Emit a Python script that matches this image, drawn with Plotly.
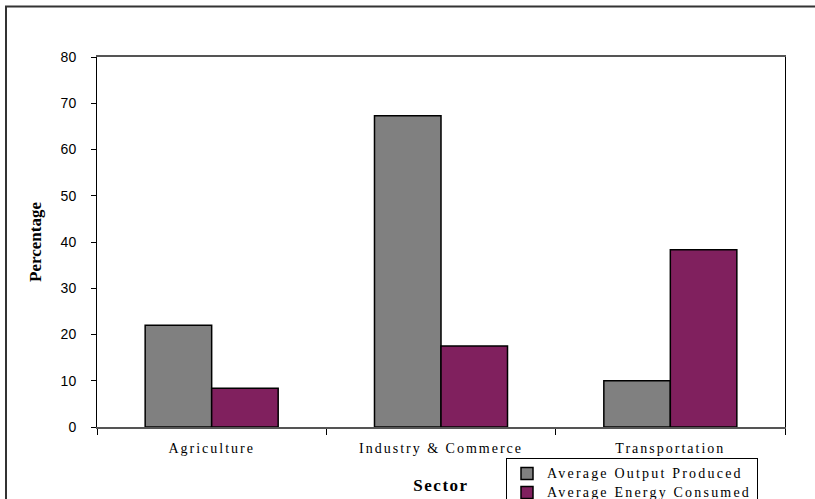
import plotly.graph_objects as go

categories = ["Agriculture", "Industry & Commerce", "Transportation"]
output_produced = [22.0, 67.3, 10.0]
energy_consumed = [8.4, 17.5, 38.3]
series_names = ["Average Output Produced", "Average Energy Consumed"]
y_ticks = [0, 10, 20, 30, 40, 50, 60, 70, 80]

W, H = 815, 499
L, R, T, B = 97, 30, 57, 72
pw = W - L - R
ph = H - T - B


def spaced(s, ls, size=None):
    st = "letter-spacing:%spx" % ls
    if size:
        st += ";font-size:%spx" % size
    return '<span style="%s">%s</span>' % (st, s)


fig = go.Figure()
fig.add_bar(
    x=categories, y=output_produced, name=spaced(series_names[0], 2.2, 14),
    marker=dict(color="#808080", line=dict(color="black", width=1.5)),
)
fig.add_bar(
    x=categories, y=energy_consumed, name=spaced(series_names[1], 2.2, 14),
    marker=dict(color="#80205E", line=dict(color="black", width=1.5)),
)

# outer chart frame (pixel positions converted to paper coords)
fx0 = (6 - L) / pw
fx1 = (W + 4 - L) / pw
fy0 = (H - B - 6.5) / ph
fy1 = (H - B - (H + 4)) / ph
fig.add_shape(
    type="rect", xref="paper", yref="paper",
    x0=fx0, x1=fx1, y0=fy1, y1=fy0,
    line=dict(color="#333333", width=2), fillcolor="rgba(0,0,0,0)",
    layer="below",
)

fig.update_layout(
    width=W, height=H,
    margin=dict(l=L, r=R, t=T, b=B, autoexpand=False),
    paper_bgcolor="white", plot_bgcolor="white",
    barmode="group", bargap=0.42, bargroupgap=0,
    showlegend=True,
    legend=dict(
        x=(506 - L) / pw, y=(H - B - 458) / ph, xanchor="left", yanchor="top",
        bordercolor="black", borderwidth=1, bgcolor="white",
        font=dict(family="Liberation Serif", size=12, color="black"),
        tracegroupgap=0, itemwidth=30,
    ),
    xaxis=dict(
        type="category",
        tickvals=categories,
        ticktext=[spaced(c, 2.0) for c in categories],
        tickfont=dict(family="Liberation Serif", size=14, color="black"),
        ticks="outside", tickson="boundaries", ticklen=6, tickcolor="black",
        ticklabelstandoff=7,
        showline=True, linecolor="#555555", linewidth=1.5, mirror=True,
        showgrid=False,
        title=dict(text="<b>" + spaced("Sector", 1.5) + "</b>", standoff=25,
                   font=dict(family="Liberation Serif", size=17, color="black")),
    ),
    yaxis=dict(
        range=[0, 80], tickvals=y_ticks,
        tickfont=dict(family="Liberation Sans", size=14, color="black"),
        ticks="outside", ticklen=5, tickcolor="black", ticklabelstandoff=12,
        showline=True, linecolor="black", linewidth=1, mirror=True,
        showgrid=False, zeroline=False,
        title=dict(text="<b>Percentage</b>", standoff=14,
                   font=dict(family="Liberation Serif", size=17, color="black")),
    ),
)

fig.write_html("out.html")
